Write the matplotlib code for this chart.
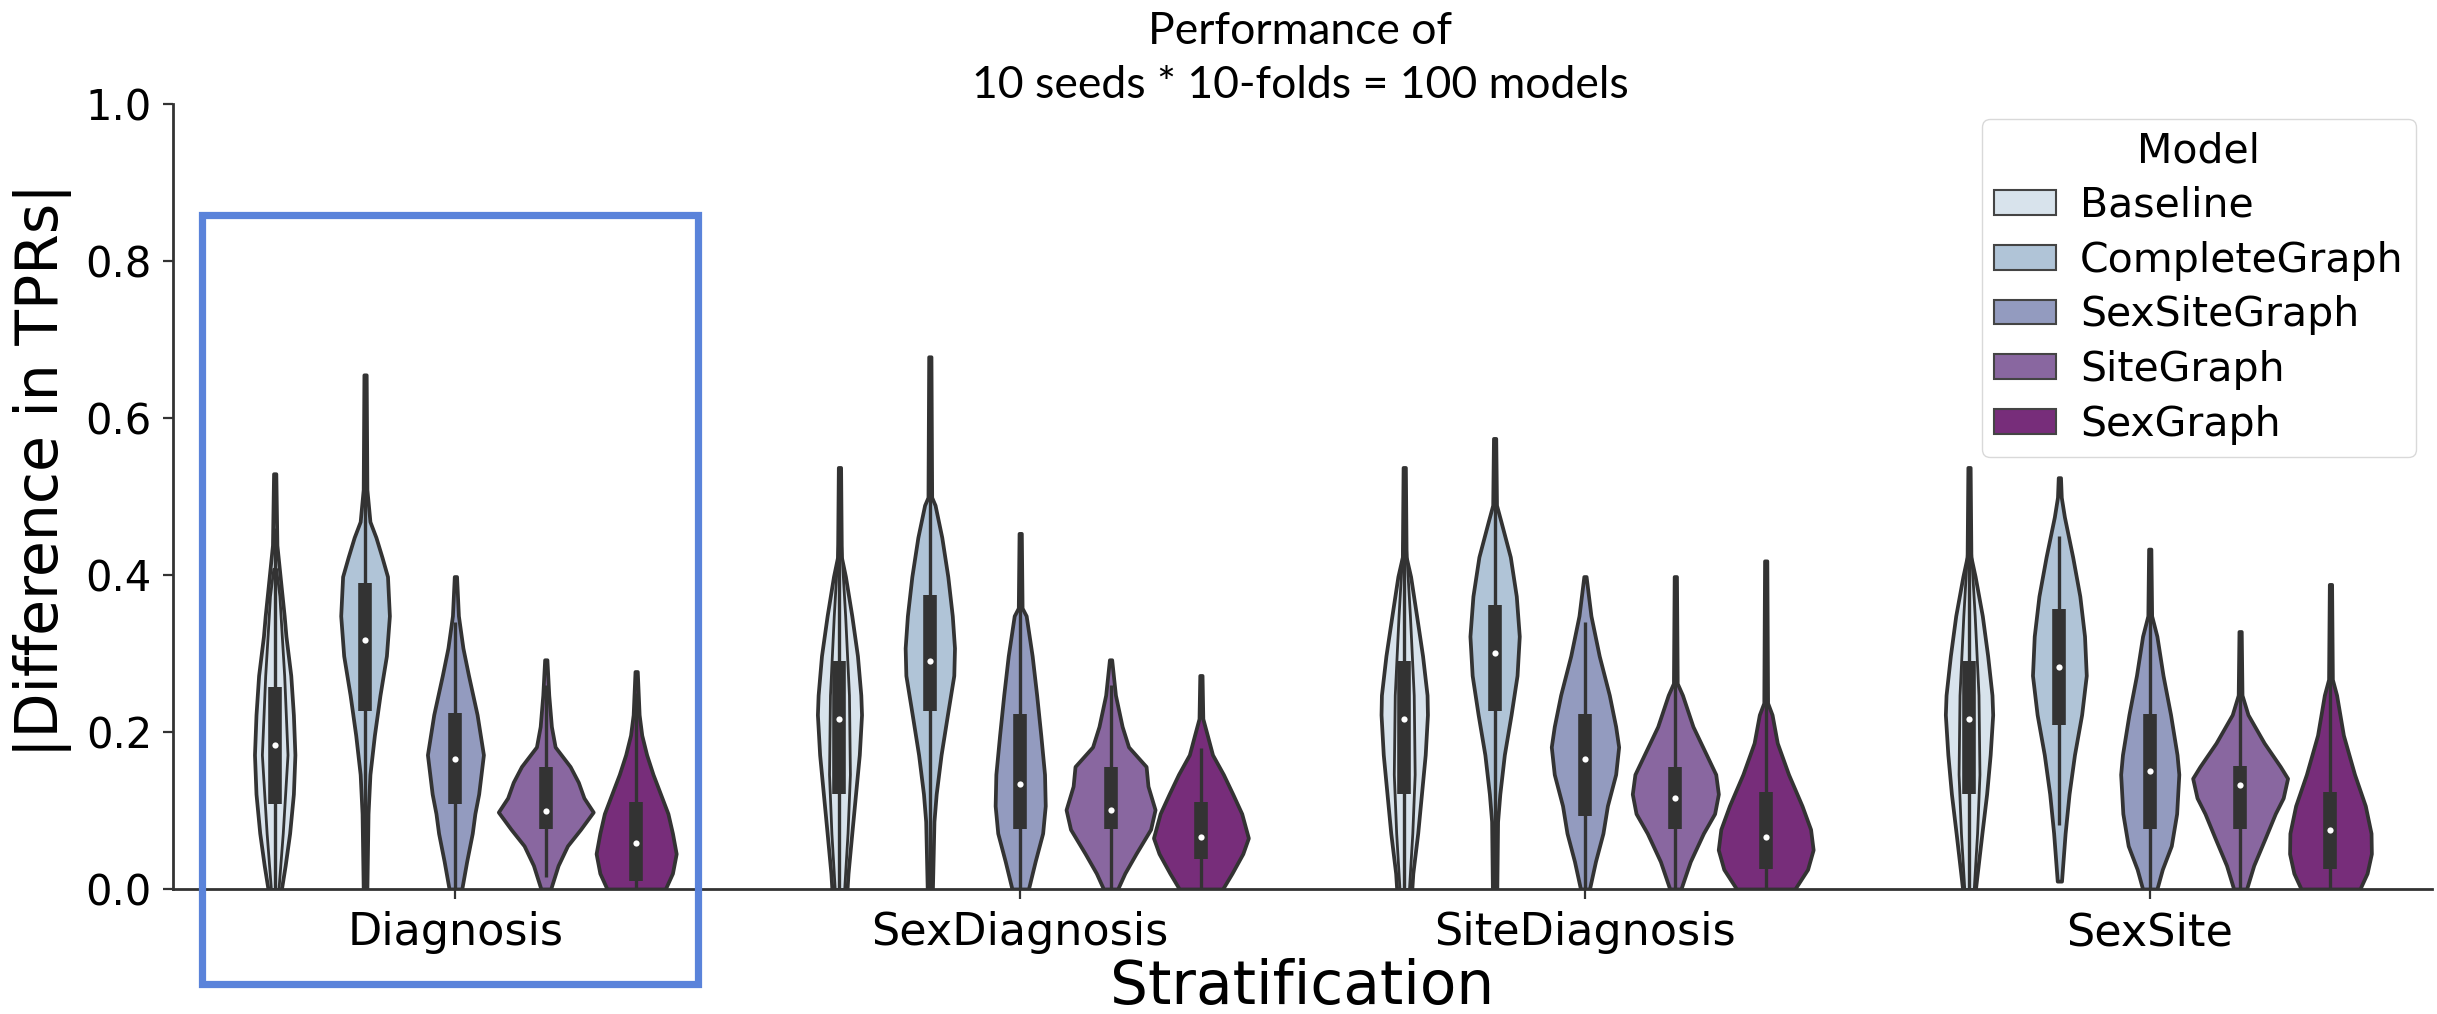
import matplotlib
matplotlib.use("Agg")
import matplotlib.pyplot as plt
from matplotlib.patches import Patch, Rectangle

groups = ["Diagnosis", "SexDiagnosis", "SiteDiagnosis", "SexSite"]
models = ["Baseline", "CompleteGraph", "SexSiteGraph", "SiteGraph", "SexGraph"]
colors = ["#d8e3ec", "#b0c4d7", "#939bbf", "#8967a0", "#772d7a"]

# box statistics (rows = groups, cols = models)
q1 = [[0.108, 0.227, 0.108, 0.076, 0.010],
      [0.121, 0.227, 0.076, 0.076, 0.038],
      [0.121, 0.227, 0.093, 0.076, 0.025],
      [0.121, 0.209, 0.076, 0.076, 0.025]]
median = [[0.183, 0.317, 0.166, 0.099, 0.058],
          [0.217, 0.291, 0.134, 0.100, 0.066],
          [0.216, 0.300, 0.166, 0.116, 0.066],
          [0.217, 0.283, 0.150, 0.133, 0.075]]
q3 = [[0.257, 0.390, 0.224, 0.156, 0.111],
      [0.291, 0.374, 0.223, 0.156, 0.111],
      [0.291, 0.362, 0.223, 0.156, 0.123],
      [0.291, 0.357, 0.223, 0.157, 0.123]]
whisk_lo = [[0.0, 0.0, 0.0, 0.015, 0.0],
            [0.0, 0.0, 0.0, 0.0, 0.0],
            [0.0, 0.0, 0.0, 0.0, 0.0],
            [0.0, 0.081, 0.0, 0.0, 0.0]]
whisk_hi = [[0.46, 0.60, 0.34, 0.26, 0.25],
            [0.47, 0.60, 0.40, 0.26, 0.18],
            [0.47, 0.51, 0.34, 0.35, 0.28],
            [0.47, 0.45, 0.38, 0.29, 0.28]]

# violin outlines: (y levels, relative half width) per model
diagnosis_shapes = [
    ([0.529, 0.438, 0.383, 0.348, 0.322, 0.272, 0.222, 0.171, 0.121, 0.071, 0.030, 0.0],
     [0.024, 0.047, 0.14, 0.2, 0.237, 0.339, 0.394, 0.426, 0.394, 0.315, 0.221, 0.142]),
    ([0.655, 0.509, 0.468, 0.448, 0.423, 0.398, 0.348, 0.297, 0.247, 0.196, 0.146, 0.096, 0.0],
     [0.024, 0.039, 0.103, 0.229, 0.355, 0.473, 0.513, 0.450, 0.315, 0.197, 0.103, 0.063, 0.039]),
    ([0.398, 0.348, 0.307, 0.272, 0.222, 0.171, 0.121, 0.096, 0.071, 0.035, 0.0],
     [0.024, 0.063, 0.158, 0.276, 0.457, 0.590, 0.490, 0.410, 0.355, 0.237, 0.134]),
    ([0.292, 0.247, 0.207, 0.181, 0.156, 0.136, 0.116, 0.098, 0.076, 0.055, 0.030, 0.0],
     [0.024, 0.063, 0.118, 0.197, 0.513, 0.686, 0.804, 1.0, 0.733, 0.457, 0.260, 0.103]),
    ([0.277, 0.222, 0.196, 0.171, 0.146, 0.131, 0.096, 0.071, 0.045, 0.020, 0.0],
     [0.024, 0.063, 0.118, 0.221, 0.355, 0.450, 0.670, 0.765, 0.844, 0.765, 0.615]),
]
sexdiagnosis_shapes = [
    ([0.537, 0.423, 0.398, 0.348, 0.297, 0.247, 0.222, 0.171, 0.121, 0.071, 0.020, 0.0],
     [0.024, 0.040, 0.126, 0.260, 0.379, 0.450, 0.465, 0.418, 0.339, 0.260, 0.181, 0.160]),
    ([0.678, 0.499, 0.489, 0.448, 0.398, 0.348, 0.307, 0.272, 0.222, 0.171, 0.121, 0.086, 0.0],
     [0.024, 0.039, 0.110, 0.252, 0.379, 0.473, 0.520, 0.505, 0.371, 0.237, 0.134, 0.087, 0.055]),
    ([0.453, 0.358, 0.348, 0.297, 0.247, 0.196, 0.146, 0.106, 0.071, 0.035, 0.0],
     [0.024, 0.040, 0.126, 0.252, 0.347, 0.434, 0.513, 0.528, 0.473, 0.315, 0.174]),
    ([0.292, 0.247, 0.207, 0.181, 0.156, 0.131, 0.101, 0.076, 0.045, 0.020, 0.0],
     [0.024, 0.103, 0.244, 0.379, 0.749, 0.789, 0.938, 0.844, 0.536, 0.300, 0.150]),
    ([0.272, 0.217, 0.196, 0.171, 0.146, 0.121, 0.096, 0.065, 0.045, 0.020, 0.0],
     [0.024, 0.040, 0.134, 0.244, 0.473, 0.670, 0.860, 1.0, 0.883, 0.655, 0.457]),
]
sitediagnosis_shapes = [
    ([0.537, 0.423, 0.398, 0.348, 0.297, 0.247, 0.222, 0.171, 0.121, 0.071, 0.020, 0.0],
     [0.024, 0.040, 0.134, 0.260, 0.386, 0.481, 0.489, 0.442, 0.363, 0.284, 0.181, 0.160]),
    ([0.574, 0.489, 0.468, 0.423, 0.373, 0.322, 0.272, 0.222, 0.171, 0.121, 0.086, 0.0],
     [0.024, 0.040, 0.134, 0.331, 0.457, 0.520, 0.473, 0.347, 0.205, 0.110, 0.063, 0.047]),
    ([0.398, 0.348, 0.297, 0.247, 0.207, 0.181, 0.146, 0.106, 0.071, 0.035, 0.0],
     [0.024, 0.126, 0.300, 0.513, 0.647, 0.710, 0.647, 0.473, 0.379, 0.221, 0.095]),
    ([0.398, 0.262, 0.247, 0.207, 0.171, 0.146, 0.121, 0.096, 0.071, 0.035, 0.0],
     [0.024, 0.040, 0.150, 0.371, 0.655, 0.852, 0.907, 0.828, 0.592, 0.315, 0.118]),
    ([0.418, 0.237, 0.222, 0.186, 0.146, 0.106, 0.076, 0.050, 0.025, 0.0],
     [0.024, 0.040, 0.134, 0.244, 0.481, 0.765, 0.946, 1.0, 0.883, 0.615]),
]
sexsite_shapes = [
    ([0.537, 0.423, 0.398, 0.348, 0.297, 0.247, 0.222, 0.171, 0.121, 0.071, 0.020, 0.0],
     [0.024, 0.040, 0.129, 0.280, 0.393, 0.484, 0.499, 0.446, 0.371, 0.272, 0.174, 0.136]),
    ([0.524, 0.499, 0.474, 0.423, 0.373, 0.322, 0.272, 0.222, 0.171, 0.121, 0.071, 0.035, 0.010],
     [0.024, 0.040, 0.106, 0.280, 0.431, 0.530, 0.567, 0.469, 0.318, 0.204, 0.121, 0.076, 0.045]),
    ([0.433, 0.348, 0.322, 0.272, 0.222, 0.171, 0.146, 0.096, 0.055, 0.025, 0.0],
     [0.024, 0.040, 0.151, 0.280, 0.439, 0.575, 0.613, 0.567, 0.454, 0.265, 0.151]),
    ([0.328, 0.247, 0.222, 0.186, 0.156, 0.141, 0.116, 0.096, 0.065, 0.030, 0.0],
     [0.024, 0.040, 0.166, 0.507, 0.847, 1.0, 0.908, 0.741, 0.530, 0.287, 0.136]),
    ([0.388, 0.267, 0.247, 0.196, 0.146, 0.106, 0.071, 0.045, 0.020, 0.0],
     [0.024, 0.040, 0.129, 0.272, 0.507, 0.734, 0.855, 0.862, 0.772, 0.620]),
]
all_shapes = [diagnosis_shapes, sexdiagnosis_shapes, sitediagnosis_shapes, sexsite_shapes]

# second (inner) outline visible inside the Baseline violins
baseline_inner = [
    ([0.408, 0.373, 0.322, 0.272, 0.171, 0.071, 0.0], [0.03, 0.10, 0.15, 0.20, 0.27, 0.17, 0.08]),
    ([0.453, 0.40, 0.348, 0.247, 0.146, 0.071, 0.0], [0.02, 0.07, 0.12, 0.20, 0.22, 0.17, 0.10]),
    ([0.453, 0.40, 0.348, 0.247, 0.146, 0.071, 0.0], [0.02, 0.07, 0.12, 0.20, 0.22, 0.17, 0.10]),
    ([0.453, 0.40, 0.348, 0.247, 0.146, 0.071, 0.0], [0.02, 0.07, 0.12, 0.20, 0.22, 0.17, 0.10]),
]

EDGE = "#333333"
slot = 0.8 / len(models)
half_max = slot / 2 * 1.05

fig = plt.figure(figsize=(24.37, 10.14), dpi=100)
ax = fig.add_axes([0.0710, 0.1233, 0.9270, 0.7741])


def draw_outline(xc, ys, ws, color, lw):
    xl = [xc - w * half_max for w in ws]
    xr = [xc + w * half_max for w in ws]
    ax.fill_betweenx(ys, xl, xr, facecolor=color, edgecolor=EDGE, linewidth=lw, zorder=1)


for gi, g in enumerate(groups):
    for mi, m in enumerate(models):
        xc = gi - 0.4 + slot * (mi + 0.5)
        ys, ws = all_shapes[gi][mi]
        draw_outline(xc, ys, ws, colors[mi], 2.7)
        if mi == 0:
            iy, iw = baseline_inner[gi]
            draw_outline(xc, iy, iw, colors[mi], 2.0)
        ax.plot([xc, xc], [whisk_lo[gi][mi], whisk_hi[gi][mi]], color=EDGE, lw=2.4,
                solid_capstyle="butt", zorder=2)
        ax.plot([xc, xc], [q1[gi][mi], q3[gi][mi]], color=EDGE, lw=9.8,
                solid_capstyle="butt", zorder=2)
        ax.scatter([xc], [median[gi][mi]], s=20, color="white", zorder=3, linewidths=0)

ax.set_xlim(-0.5, 3.5)
ax.set_ylim(0, 1.0)
ax.set_xticks(range(len(groups)))
ax.set_xticklabels(groups)
ax.set_yticks([0.0, 0.2, 0.4, 0.6, 0.8, 1.0])
ax.set_yticklabels(["0.0", "0.2", "0.4", "0.6", "0.8", "1.0"])
ax.tick_params(axis="both", length=7.2, width=1.6, color=EDGE)
ax.tick_params(axis="y", pad=8, labelsize=30)
ax.tick_params(axis="x", pad=9.0, labelsize=32)
for side in ["top", "right"]:
    ax.spines[side].set_visible(False)
for side in ["left", "bottom"]:
    ax.spines[side].set_linewidth(2.0)
    ax.spines[side].set_color(EDGE)

ax.set_ylabel("|Difference in TPRs|", fontsize=42)
ax.yaxis.set_label_coords(-0.0447, 0.534)
ax.set_xlabel("Stratification", fontsize=43)
ax.xaxis.set_label_coords(0.5, -0.088)

handles = [Patch(facecolor=c, edgecolor="#444444", linewidth=1.5, label=m)
           for c, m in zip(colors, models)]
leg = ax.legend(handles=handles, title="Model", loc="upper right",
                bbox_to_anchor=(0.9929, 0.981), borderaxespad=0, fontsize=29.5,
                title_fontsize=29.5, labelspacing=0.36, handlelength=1.5,
                handleheight=0.55, handletextpad=0.6, borderpad=0.3, framealpha=0.8)
leg.get_frame().set_edgecolor("#d0d0d0")

# title lines
fig.text(1300 / 2437, 1 - 32 / 1014, "Performance of", ha="center", va="center",
         fontsize=32, family="Lato")
fig.text(1300 / 2437, 1 - 86 / 1014, "10 seeds * 10-folds = 100 models", ha="center",
         va="center", fontsize=32, family="Lato")

# highlight box around the Diagnosis group
fig.patches.append(Rectangle((202 / 2437, 1 - 984 / 1014), (698 - 202) / 2437,
                             (984 - 215) / 1014, transform=fig.transFigure,
                             fill=False, edgecolor="#5a83da", linewidth=5.2, zorder=5))

fig.savefig("out.png", dpi=100)
